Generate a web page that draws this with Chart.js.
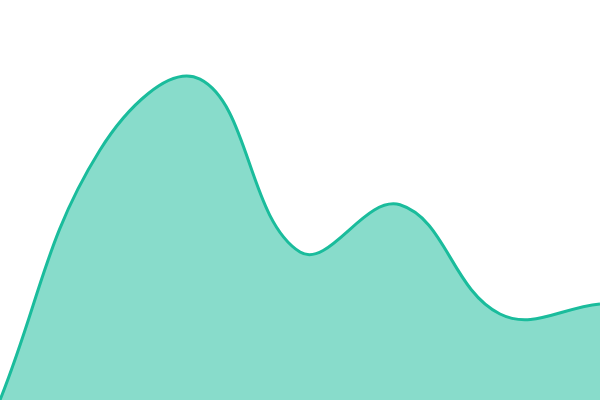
<!DOCTYPE html>
<html>
<head>
<meta charset="utf-8">
<script src="https://cdn.jsdelivr.net/npm/chart.js@4"></script>
<style>
  html, body { margin: 0; padding: 0; background: #fff; }
  #wrap { width: 600px; height: 400px; }
</style>
</head>
<body>
<div id="wrap"><canvas id="myChart"></canvas></div>
<script>
const labels = ["1", "2", "3", "4", "5", "6", "7"];
const values = [0, 62.5, 80.2, 37, 48.8, 21.5, 24];

const ctx = document.getElementById("myChart").getContext("2d");

const data = {
  labels,
  datasets: [
    {
      data: values,
      fill: true,
      backgroundColor: "rgba(26, 188, 156, 0.52)",
      borderColor: "#1abc9c",
      borderWidth: 3,
      pointRadius: 0,
      tension: 0.4,
    },
  ],
};

const config = {
  type: "line",
  data: data,
  options: {
    responsive: true,
    maintainAspectRatio: false,
    animation: false,
    layout: { padding: 0 },
    plugins: {
      legend: { display: false },
      tooltip: { enabled: false },
    },
    scales: {
      x: { display: false, offset: false },
      y: { display: false, min: 0, max: 100 },
    },
  },
};

const myChart = new Chart(ctx, config);
</script>
</body>
</html>
